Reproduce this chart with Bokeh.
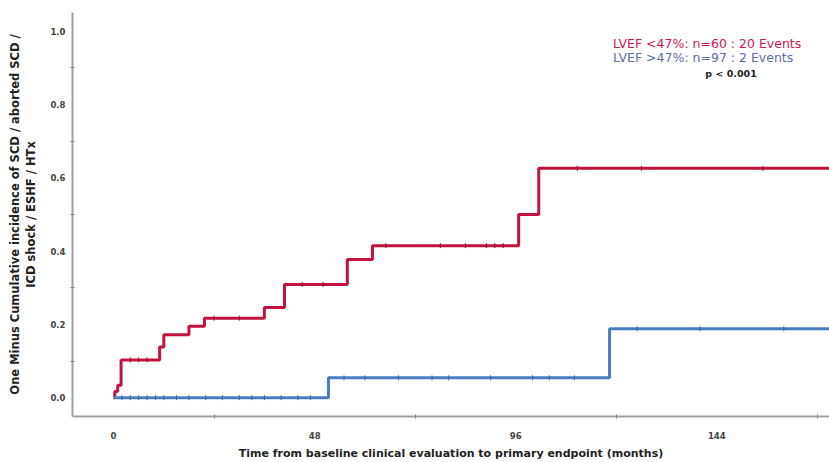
from bokeh.plotting import figure
from bokeh.models import FixedTicker, PrintfTickFormatter, Range1d, Label
from bokeh.embed import file_html
from bokeh.resources import INLINE

# Data
red_t = [0, 0.3, 1.0, 1.8, 11.0, 12.0, 18.0, 21.7, 36.0, 40.8, 55.8, 61.8, 96.7, 101.5, 172]
red_v = [0, 0.017, 0.034, 0.103, 0.138, 0.172, 0.195, 0.217, 0.246, 0.309, 0.377, 0.415, 0.500, 0.626, 0.626]
blue_t = [0, 51.3, 118.4, 172]
blue_v = [0, 0.054, 0.188, 0.188]

red_cens_t = [4, 6, 8, 24, 30, 45, 50, 65, 78, 84, 89, 91, 93, 110.7, 126, 155]
red_cens_v = [0.103, 0.103, 0.103, 0.217, 0.217, 0.309, 0.309, 0.415, 0.415, 0.415, 0.415, 0.415, 0.415, 0.626, 0.626, 0.626]
blue_cens_t = [2, 4, 6, 8, 10, 12, 15, 18, 22, 26, 30, 33, 36, 40, 44, 47, 55, 60, 68, 76, 80, 90, 100, 104, 110, 125, 140, 160]
blue_cens_v = [0]*16 + [0.054]*9 + [0.188]*3

x_ticks = [0, 48, 96, 144]
x_minor = [24, 72, 120, 168]
y_ticks = [0.0, 0.2, 0.4, 0.6, 0.8, 1.0]
y_minor = [0.1, 0.3, 0.5, 0.7, 0.9]

x_title = "Time from baseline clinical evaluation to primary endpoint (months)"
y_title = "One Minus Cumulative incidence of SCD / aborted SCD /\nICD shock / ESHF / HTx"
legend_lines = ["LVEF <47%: n=60 : 20 Events", "LVEF >47%: n=97 : 2 Events", "p < 0.001"]

RED = "#c4123f"
BLUE = "#4a7cc2"
FONT = "DejaVu Sans"

p = figure(width=829, height=462, output_backend="svg", toolbar_location=None,
           x_range=Range1d(-9.8, 170.9), y_range=Range1d(-0.0515, 1.0515),
           min_border_left=72, min_border_right=0, min_border_top=12, min_border_bottom=43)
p.outline_line_color = None
p.xgrid.grid_line_color = None
p.ygrid.grid_line_color = None
p.background_fill_color = "white"

p.step(red_t, red_v, mode="after", line_color=RED, line_width=3)
p.step(blue_t, blue_v, mode="after", line_color=BLUE, line_width=3)
p.scatter(red_cens_t, red_cens_v, marker="dash", angle=1.5708, size=5, line_color="#8e0d2e", line_width=1)
p.scatter(blue_cens_t, blue_cens_v, marker="dash", angle=1.5708, size=5, line_color="#3a679f", line_width=1)

for ax, ticks, minor in ((p.xaxis[0], x_ticks, x_minor), (p.yaxis[0], y_ticks, y_minor)):
    ax.ticker = FixedTicker(ticks=ticks, minor_ticks=minor)
    ax.axis_line_color = "#a0a0a0"
    ax.axis_line_width = 2
    ax.major_tick_line_color = None
    ax.minor_tick_line_color = "#808080"
    ax.minor_tick_in = 2
    ax.minor_tick_out = 2
    ax.major_label_text_font = FONT
    ax.major_label_text_font_size = "8.5px"
    ax.major_label_text_color = "#444444"
    ax.major_label_text_font_style = "bold"
    ax.axis_label_text_font = FONT
    ax.axis_label_text_font_style = "bold"
    ax.axis_label_text_color = "#222222"

p.yaxis[0].formatter = PrintfTickFormatter(format="%.1f")
p.yaxis[0].major_label_standoff = 1
p.xaxis[0].major_label_standoff = 9
p.xaxis[0].axis_label = x_title
p.xaxis[0].axis_label_text_font_size = "11px"
p.xaxis[0].axis_label_standoff = 5
p.yaxis[0].axis_label = y_title
p.yaxis[0].axis_label_text_font_size = "11.5px"
p.yaxis[0].axis_label_standoff = 9

p.add_layout(Label(x=119.2, y=0.967, text=legend_lines[0], text_color="#d0164e",
                   text_font=FONT, text_font_size="12.5px", text_baseline="middle"))
p.add_layout(Label(x=119.2, y=0.930, text=legend_lines[1], text_color="#5a6ea8",
                   text_font=FONT, text_font_size="12.5px", text_baseline="middle"))
p.add_layout(Label(x=147.4, y=0.886, text=legend_lines[2], text_color="#222222",
                   text_font=FONT, text_font_size="9.5px", text_font_style="bold",
                   text_baseline="middle", text_align="center"))

open("out.html", "w").write(file_html(p, INLINE))
